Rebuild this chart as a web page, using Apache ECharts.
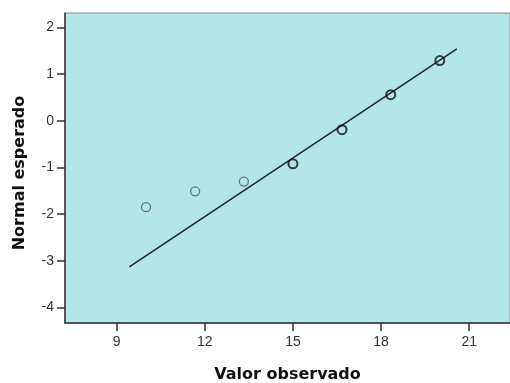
<!DOCTYPE html>
<html>
<head>
<meta charset="utf-8">
<script src="https://cdn.jsdelivr.net/npm/echarts@6/dist/echarts.min.js"></script>
<style>
  html, body { margin: 0; padding: 0; background: #fff; }
  #chart { width: 510px; height: 383px; }
</style>
</head>
<body>
<div id="chart"></div>
<script>
// Observed values and their expected normal scores
const observed = [10, 11.67, 13.33, 15, 16.67, 18.33, 20];
const expected = [-1.85, -1.51, -1.30, -0.92, -0.19, 0.56, 1.29];
// Points with repeated observations are drawn darker
const repeated = [false, false, false, true, true, true, true];
// Reference line end points
const lineX = [9.43, 20.58];
const lineY = [-3.13, 1.54];
// Tick labels
const xTicks = [9, 12, 15, 18, 21];
const yTicks = [-4, -3, -2, -1, 0, 1, 2];

const pts = observed.map((x, i) => ({
  value: [x, expected[i]],
  itemStyle: repeated[i]
    ? { borderColor: '#111', borderWidth: 2 }
    : { borderColor: '#555', borderWidth: 1.3 }
}));

const tickStyle = { color: '#333', width: 1.5 };
const labelStyle = { color: '#333', fontFamily: 'Liberation Sans', fontSize: 14 };
const titleStyle = { color: '#111', fontFamily: 'DejaVu Sans', fontWeight: 'bold', fontSize: 16 };

const chart = echarts.init(document.getElementById('chart'));
chart.setOption({
  animation: false,
  grid: {
    left: 65, top: 13, right: 0, bottom: 60,
    outerBoundsMode: 'none',
    containLabel: false,
    show: true,
    backgroundColor: '#b3e6e8',
    borderColor: '#888',
    borderWidth: 1
  },
  xAxis: {
    type: 'value',
    min: 7.24, max: 22.39,
    splitLine: { show: false },
    axisLine: { onZero: false, lineStyle: { color: '#333', width: 1.5 } },
    axisTick: { customValues: xTicks, length: 8, lineStyle: tickStyle },
    axisLabel: Object.assign({ customValues: xTicks, margin: 12 }, labelStyle),
    name: 'Valor observado',
    nameLocation: 'middle',
    nameGap: 44,
    nameTextStyle: titleStyle
  },
  yAxis: {
    type: 'value',
    min: -4.33, max: 2.31,
    splitLine: { show: false },
    axisLine: { show: true, onZero: false, lineStyle: { color: '#333', width: 1.5 } },
    axisTick: { show: true, customValues: yTicks, length: 8, lineStyle: tickStyle },
    axisLabel: Object.assign({ customValues: yTicks, margin: 11 }, labelStyle),
    name: 'Normal esperado',
    nameLocation: 'middle',
    nameGap: 37,
    nameTextStyle: Object.assign({ padding: [0, 10, 0, 0] }, titleStyle)
  },
  series: [
    {
      type: 'line',
      data: lineX.map((x, i) => [x, lineY[i]]),
      symbol: 'none',
      lineStyle: { color: '#222', width: 1.5 },
      silent: true,
      z: 2
    },
    {
      type: 'scatter',
      data: pts,
      symbol: 'circle',
      symbolSize: 9,
      itemStyle: { color: 'rgba(0,0,0,0)' },
      z: 3
    }
  ]
});
</script>
</body>
</html>
